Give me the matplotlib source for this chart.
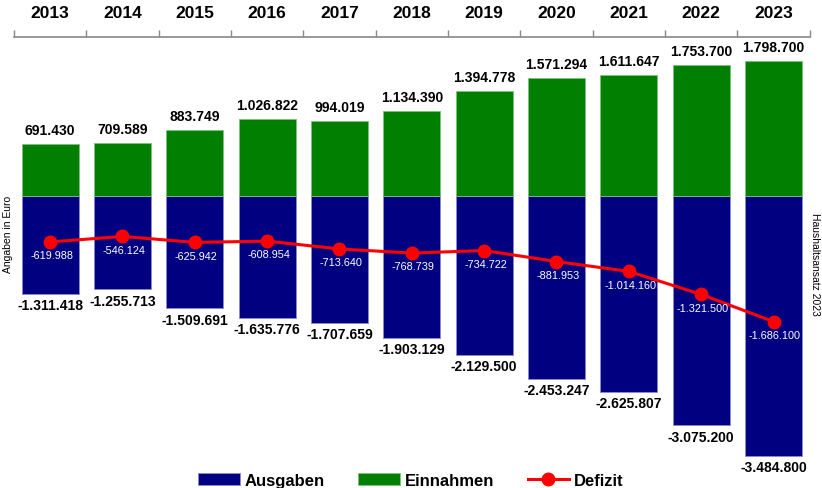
import matplotlib.pyplot as plt
import numpy as np

plt.rcParams["font.family"] = ["Liberation Sans", "DejaVu Sans"]

years = ["2013", "2014", "2015", "2016", "2017", "2018", "2019", "2020", "2021", "2022", "2023"]
einnahmen = [691430, 709589, 883749, 1026822, 994019, 1134390, 1394778, 1571294, 1611647, 1753700, 1798700]
ausgaben = [-1311418, -1255713, -1509691, -1635776, -1707659, -1903129, -2129500, -2453247, -2625807, -3075200, -3484800]
defizit = [-619988, -546124, -625942, -608954, -713640, -768739, -734722, -881953, -1014160, -1321500, -1686100]

GREEN = "#007f00"
BLUE = "#000080"
RED = "#ff0000"


def de(v):
    return f"{v:,}".replace(",", ".")


fig = plt.figure(figsize=(8.22, 4.89), dpi=100)
ax = fig.add_axes([0.017, 0.04, 0.968, 0.882])

x = np.arange(len(years))
w = 0.79
b1 = ax.bar(x, ausgaben, w, color=BLUE, edgecolor="#8a8ad0", linewidth=0.6, label="Ausgaben", zorder=2)
b2 = ax.bar(x, einnahmen, w, color=GREEN, edgecolor="#7fbf7f", linewidth=0.6, label="Einnahmen", zorder=2)
l1, = ax.plot(x, defizit, color=RED, linewidth=2.2, marker="o", markersize=9, label="Defizit", zorder=3)

for i in x:
    ax.annotate(de(einnahmen[i]), (i, einnahmen[i]), xytext=(0, 5), textcoords="offset points",
                ha="center", va="bottom", fontsize=10, fontweight="bold")
    ax.annotate(de(ausgaben[i]), (i, ausgaben[i]), xytext=(0, -3), textcoords="offset points",
                ha="center", va="top", fontsize=10, fontweight="bold")
    ax.annotate(de(defizit[i]), (i, defizit[i]), xytext=(1, -6), textcoords="offset points",
                ha="center", va="top", fontsize=7.8, color="white")

ax.set_xlim(-0.5, len(years) - 0.5)
ax.set_ylim(-3650000, 2120000)

ax.xaxis.tick_top()
ax.set_xticks(x)
ax.set_xticklabels(years, fontsize=12.5, fontweight="bold")
ax.set_xticks(np.arange(-0.5, len(years)), minor=True)
ax.tick_params(axis="x", which="major", length=0, pad=12)
ax.tick_params(axis="x", which="minor", length=5, color="#888888", width=1)
ax.set_yticks([])
for s in ["left", "right", "bottom"]:
    ax.spines[s].set_visible(False)
ax.spines["top"].set_color("#888888")
ax.spines["top"].set_linewidth(1.2)

fig.text(0.01, 0.52, "Angaben in Euro", rotation=90, ha="center", va="center", fontsize=7.5)
fig.text(0.991, 0.46, "Haushaltsansatz 2023", rotation=-90, ha="center", va="center", fontsize=7.5)

fig.legend([b1, b2, l1], ["Ausgaben", "Einnahmen", "Defizit"], loc="lower center",
           bbox_to_anchor=(0.5, -0.03), ncol=3, frameon=False,
           prop={"size": 12, "weight": "bold"}, handlelength=2.5, handletextpad=0.3, columnspacing=2.0)

fig.savefig("out.png", dpi=100)
